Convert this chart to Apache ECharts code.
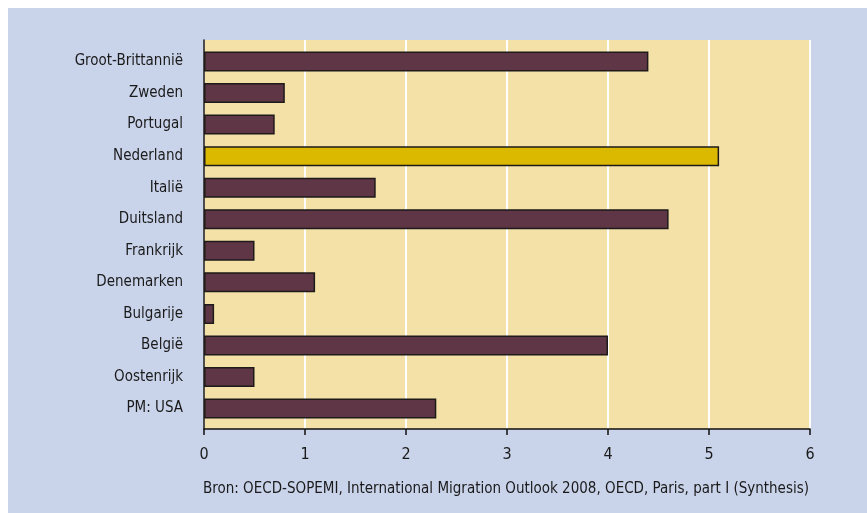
<!DOCTYPE html>
<html>
<head lang="nl">
    <meta charset="UTF-8"/>
    <title>Migratie</title>
    <script src="https://cdn.jsdelivr.net/npm/echarts@6/dist/echarts.min.js"></script>
    <style>
        html, body { margin: 0; padding: 0; background: #ffffff; }
        #main { position: absolute; left: 8px; top: 8px; width: 859px; height: 505px; }
    </style>
</head>
<body>
<div id="main"></div>
<script>
    // data
    var landen = ['Groot-Brittannië', 'Zweden', 'Portugal', 'Nederland', 'Italië', 'Duitsland',
        'Frankrijk', 'Denemarken', 'Bulgarije', 'België', 'Oostenrijk', 'PM: USA'];
    var waarden = [4.4, 0.8, 0.7, 5.1, 1.7, 4.6, 0.5, 1.1, 0.1, 4.0, 0.5, 2.3];
    var xTicks = [0, 1, 2, 3, 4, 5, 6];
    var bron = 'Bron: OECD-SOPEMI, International Migration Outlook 2008, OECD, Paris, part I (Synthesis)';

    var font = '"Liberation Sans Narrow", "DejaVu Sans Condensed", sans-serif';

    var myChart = echarts.init(document.getElementById('main'));
    var option = {
        backgroundColor: '#c9d3ea',
        animation: false,
        // grid 0: beige panel with axes, grid 1: the bars (a bit of padding top and bottom)
        grid: [
            {left: 196, top: 32, right: 57, bottom: 84, show: true, backgroundColor: '#f3e1a7', borderWidth: 0},
            {left: 196, top: 37.7, right: 57, bottom: 88.7}
        ],
        xAxis: [{
            type: 'value',
            gridIndex: 0,
            min: xTicks[0],
            max: xTicks[xTicks.length - 1],
            interval: 1,
            axisLine: {show: true, lineStyle: {color: '#111', width: 1.5}},
            axisTick: {show: true, length: 6, lineStyle: {color: '#111', width: 1.5}},
            axisLabel: {color: '#1a1a1a', fontFamily: font, fontSize: 16, margin: 18},
            splitLine: {show: true, lineStyle: {color: '#ffffff', width: 2}}
        }, {
            type: 'value',
            gridIndex: 1,
            min: xTicks[0],
            max: xTicks[xTicks.length - 1],
            show: false
        }],
        yAxis: [{
            type: 'category',
            gridIndex: 0,
            data: landen,
            inverse: true,
            axisLine: {show: true, lineStyle: {color: '#111', width: 1.5}},
            axisTick: {show: false},
            axisLabel: {show: false}
        }, {
            type: 'category',
            gridIndex: 1,
            data: landen,
            inverse: true,
            axisLine: {show: false},
            axisTick: {show: false},
            axisLabel: {color: '#1a1a1a', fontFamily: font, fontSize: 15, margin: 21}
        }],
        graphic: [{
            type: 'text',
            left: 195,
            top: 474,
            style: {text: bron, fill: '#1a1a1a', font: '15px ' + font}
        }],
        series: [{
            type: 'bar',
            xAxisIndex: 1,
            yAxisIndex: 1,
            barWidth: 20,
            data: waarden.map(function (v, i) {
                return {
                    value: v,
                    itemStyle: {color: landen[i] === 'Nederland' ? '#dbb900' : '#5f3646'}
                };
            }),
            itemStyle: {borderColor: '#1e1a1a', borderWidth: 1.5}
        }]
    };
    myChart.setOption(option);
</script>
</body>
</html>
